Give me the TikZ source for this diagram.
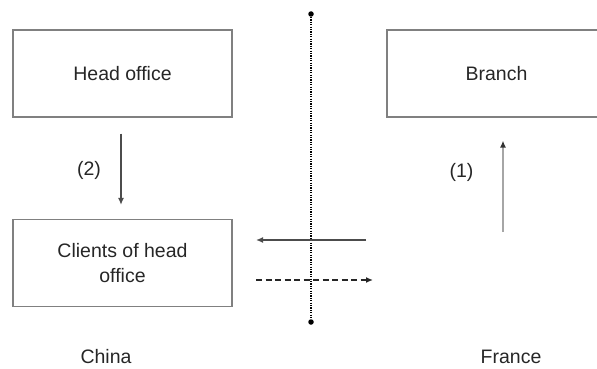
\documentclass[tikz,border=0pt]{standalone}
\usepackage{fontspec}
\setmainfont{Liberation Sans}
\usetikzlibrary{arrows.meta}
\usetikzlibrary{positioning}

\begin{document}
\begin{tikzpicture}[
	x=1pt, y=1pt,
	every node/.style={font=\fontsize{19.5}{25}\selectfont, text=black!85},
	block/.style={
	draw=black!50,
	line width=1.1pt,
	rectangle,
	minimum width=219pt,
	minimum height=87pt,
	align=center},
	flow/.style={
	-{Latex[length=7pt, width=6pt]},
	draw=black!70,
	line width=1.4pt
	},
	flowlight/.style={
	-{Latex[length=7pt, width=6pt, black!80]},
	draw=black!35,
	line width=1.4pt
	},
	flowdash/.style={
	-{Latex[length=7pt, width=6pt]},
	draw=black!85,
	line width=1.4pt,
	dash pattern=on 6pt off 3.5pt
	},
	border/.style={
	draw=black,
	line width=1.1pt,
	dash pattern=on 1.3pt off 1.1pt
	},
	enddot/.style={
	circle, fill=black, inner sep=0pt, minimum size=5.5pt}]

	\useasboundingbox (0,0) rectangle (597,-369);

	% China
	\node [block] at (122.5,-73.5)       (head)    {Head office};
	\node [block] at (122.5,-263)        (clients) {Clients of head\\office};
	\node at (106,-357)                  (china)   {China};

	% France
	\node [block] at (496.5,-73.5)       (branch)  {Branch};
	\node at (511,-357)                  (france)  {France};

	% Border
	\node [enddot] at (311,-14)          (bordertop) {};
	\node [enddot] at (311,-322)         (borderbot) {};
	\draw[border] (bordertop) -- (borderbot);

	% Flows
	\draw[flow, shorten <=16pt, shorten >=14pt] ([xshift=-1.5pt]head.south) -- ([xshift=-1.5pt]clients.north);
	\node [left=18pt of head.south, yshift=-53pt] (lbltwo) {(2)};

	\coordinate (branchin) at (503,-232);
	\draw[flowlight, shorten >=23pt] (branchin) -- (branchin |- branch.south);
	\node [left=26pt of branchin, yshift=60pt] (lblone) {(1)};

	\coordinate (franceout) at (366,-240);
	\coordinate (chinain)   at (256,-240);
	\draw[flow] (franceout) -- (chinain);

	\coordinate (chinaout)  at (256,-280);
	\coordinate (francein)  at (373,-280);
	\draw[flowdash] (chinaout) -- (francein);

\end{tikzpicture}
\end{document}
